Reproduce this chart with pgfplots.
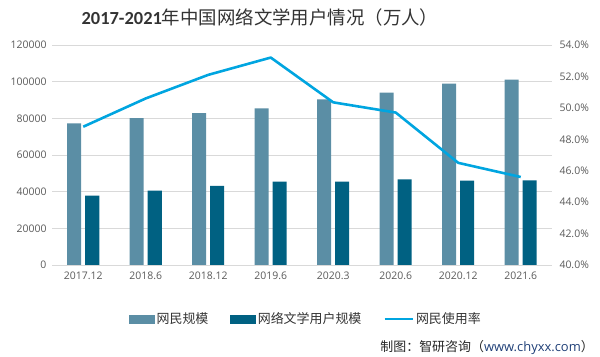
\documentclass[border=0pt]{standalone}
\usepackage{pgfplots}
\pgfplotsset{compat=1.18}
\usepackage{fontspec}
\setmainfont{Open Sans}
\newfontfamily\cjk{Noto Sans CJK SC}
\newfontfamily\carl{Carlito}
\definecolor{lightbar}{HTML}{5B8EA5}
\definecolor{darkbar}{HTML}{006182}
\definecolor{rateline}{HTML}{00A5E0}
\definecolor{gridc}{HTML}{D9D9D9}
\definecolor{tickc}{HTML}{595959}
\definecolor{urlc}{HTML}{1F3F77}
\begin{document}
\begin{tikzpicture}
\path[use as bounding box] (0,0) rectangle (600bp,357bp);
\begin{axis}[
  at={(52bp,92bp)}, anchor=south west,
  scale only axis, width=500bp, height=220bp,
  xmin=-0.5, xmax=7.5, ymin=0, ymax=120000,
  ytick={0,20000,...,120000},
  xtick={0,...,7},
  xticklabels={2017.12,2018.6,2018.12,2019.6,2020.3,2020.6,2020.12,2021.6},
  scaled y ticks=false,
  /pgf/number format/assume math mode=true,
  yticklabel={\pgfmathprintnumber[fixed,int detect,1000 sep={}]{\tick}},
  axis line style={draw=none},
  axis x line*=bottom, axis y line*=left,
  major tick length=0pt,
  ymajorgrids, grid style={gridc, line width=0.8pt},
  tick label style={font=\fontsize{10.5}{12}\selectfont, text=tickc},
  yticklabel style={xshift=-2bp},
  xticklabel style={yshift=-3bp},
  ybar, bar width=14bp,
]
\addplot[fill=lightbar, draw=none, bar shift=-9bp] coordinates {(0,77198) (1,80166) (2,82851) (3,85449) (4,90359) (5,93984) (6,98899) (7,101074)};
\addplot[fill=darkbar, draw=none, bar shift=9bp] coordinates {(0,37774) (1,40595) (2,43201) (3,45454) (4,45538) (5,46704) (6,46013) (7,46127)};
\draw[gridc, line width=0.8pt] (rel axis cs:0,0) -- (rel axis cs:1,0);
\end{axis}
\begin{axis}[
  at={(52bp,92bp)}, anchor=south west,
  scale only axis, width=500bp, height=220bp,
  xmin=-0.5, xmax=7.5, ymin=40, ymax=54,
  ytick={40,42,...,54},
  xtick=\empty,
  axis y line*=right, axis x line=none,
  axis line style={draw=none},
  major tick length=0pt,
  /pgf/number format/assume math mode=true,
  yticklabel={\pgfmathprintnumber[fixed,fixed zerofill,precision=1]{\tick}\%},
  tick label style={font=\fontsize{10.5}{12}\selectfont, text=tickc},
  yticklabel style={xshift=4bp},
  legend style={at={(0.508,-0.245)}, anchor=center, draw=none, fill=none,
    font=\cjk\fontsize{13}{15}\selectfont, text=black!80,
    /tikz/every even column/.append style={column sep=20bp},
    inner sep=0pt},
  legend columns=3,
  legend cell align=left,
]
\addlegendimage{legend image code/.code={\fill[lightbar] (0bp,-4bp) rectangle (25bp,4bp);}}
\addlegendentry{网民规模}
\addlegendimage{legend image code/.code={\fill[darkbar] (0bp,-4bp) rectangle (25bp,4bp);}}
\addlegendentry{网络文学用户规模}
\addplot[rateline, line width=2.6pt, line join=round, mark=none,
  legend image code/.code={\draw[rateline, line width=2.6pt] (0bp,0bp) -- (28bp,0bp);}]
  coordinates {(0,48.8) (1,50.6) (2,52.1) (3,53.2) (4,50.35) (5,49.7) (6,46.5) (7,45.6)};
\addlegendentry{网民使用率}
\end{axis}
\node[anchor=center] at (260bp,339bp) {\fontsize{18.5}{20}\selectfont\textcolor{black!80}{{\carl\bfseries 2017-2021}{\cjk 年中国网络文学用户情况（万人）}}};
\node[anchor=east, inner sep=0pt] at (594bp,9bp) {\fontsize{13}{15}\selectfont{\cjk\textcolor{black!85}{制图：智研咨询（}}\textcolor{urlc}{www.chyxx.com}{\cjk\textcolor{black!85}{）}}};
\end{tikzpicture}
\end{document}
